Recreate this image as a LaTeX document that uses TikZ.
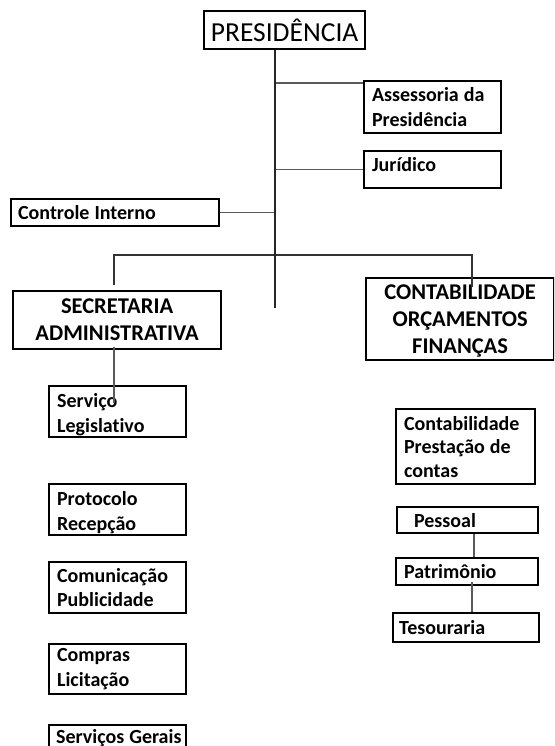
\documentclass[tikz,border=0pt]{standalone}
\usepackage{fontspec}
\setmainfont{Carlito}[Ligatures=NoCommon]
\newcommand\wsp{\hspace{0.25em}}
\begin{document}
\begin{tikzpicture}[x=1pt,y=-1pt,
  box/.style={draw=black, line width=2.2pt, rectangle, anchor=north west,
    inner xsep=8pt, inner ysep=0pt, align=left, text=black,
    font=\bfseries\fontsize{20}{24.5}\selectfont},
  bigbox/.style={box, align=center, font=\bfseries\fontsize{22.5}{27}\selectfont},
  trunk/.style={draw=black!85, line width=2.4pt},
  branch/.style={draw=black!65, line width=1.4pt},
  bar/.style={draw=black!80, line width=1.8pt}
]
\useasboundingbox (0,0) rectangle (554,746);
\clip (0,0) rectangle (554,746);
\fill[white] (0,0) rectangle (554,746);

% top
\node[box, align=center, font=\fontsize{27.5}{30}\selectfont, inner xsep=2pt,
  minimum width=161, minimum height=38] (pres) at (203,10) {PRESIDÊNCIA};

\node[box, minimum width=137, minimum height=52, text width=121] (ass) at (363,80) {Assessoria\wsp da\\Presidência};
\node[box, minimum width=137, minimum height=37, text width=121, text height=14pt, text depth=11pt] (jur) at (363,150) {Jurídico};
\node[box, minimum width=208, minimum height=27, text width=194, inner xsep=7pt] (ci) at (10,198) {Controle\wsp Interno};

\node[bigbox, minimum width=208, minimum height=58, text width=200, inner xsep=4pt] (sec) at (12,290) {SECRETARIA\\ADMINISTRATIVA};
\node[bigbox, minimum width=188, minimum height=82, text width=180, inner xsep=4pt] (cont) at (365,277) {\rule{0pt}{19pt}CONTABILIDADE\\ORÇAMENTOS\\FINANÇAS};

% left column
\node[box, minimum width=137, minimum height=51, text width=121] (sl) at (48,385) {\rule{0pt}{20pt}Serviço\\Legislativo};
\node[box, minimum width=137, minimum height=51, text width=121] (pr) at (48,483) {\rule{0pt}{20pt}Protocolo\\Recepção};
\node[box, minimum width=137, minimum height=51, text width=121] (cp) at (48,561) {Comunicação\\Publicidade};
\node[box, minimum width=137, minimum height=50, text width=121] (cl) at (48,643) {Compras\\Licitação};
\node[box, minimum width=137, minimum height=52, text width=123, inner xsep=7pt, text height=15pt, text depth=31pt] (sg) at (48,724) {\mbox{Serviços\wsp Gerais}};

% right column
\node[box, minimum width=139, minimum height=75, text width=123, font=\bfseries\fontsize{20}{23.5}\selectfont] (cpc) at (395,408) {Contabilidade\\Prestação\wsp de\\contas};
\node[box, minimum width=141, minimum height=26, text width=107, inner xsep=17pt] (pes) at (396,506) {Pessoal};
\node[box, minimum width=142, minimum height=27, text width=126] (pat) at (395,557) {Patrimônio};
\node[box, minimum width=146, minimum height=29, text width=134, inner xsep=6pt] (tes) at (392,612) {Tesouraria};

% connectors
\coordinate (tend) at (275,308);
\coordinate (bA) at (275,83);
\coordinate (barL) at (114,255);
\coordinate (barR) at (472,255);
\coordinate (secTop) at (114,285);
\coordinate (contIn) at (472,287);
\coordinate (slIn) at (114,403);
\coordinate (pp) at (474,0);
\coordinate (pt) at (472,0);

\draw[branch] (bA) -- (bA -| ass.west);
\draw[branch] (jur.west) -- (jur.west -| tend);
\draw[branch] (ci.east) -- (ci.east -| tend);
\draw[bar] (secTop) -- (barL) -- (barR) -- (contIn);
\draw[trunk] (pres.south -| tend) -- (tend);
\draw[branch] ([yshift=3pt]sec.south -| slIn) -- (slIn);
\draw[branch] (pes.south -| pp) -- (pat.north -| pp);
\draw[branch] ([yshift=4pt]pat.south -| pt) -- (tes.north -| pt);
\end{tikzpicture}
\end{document}
